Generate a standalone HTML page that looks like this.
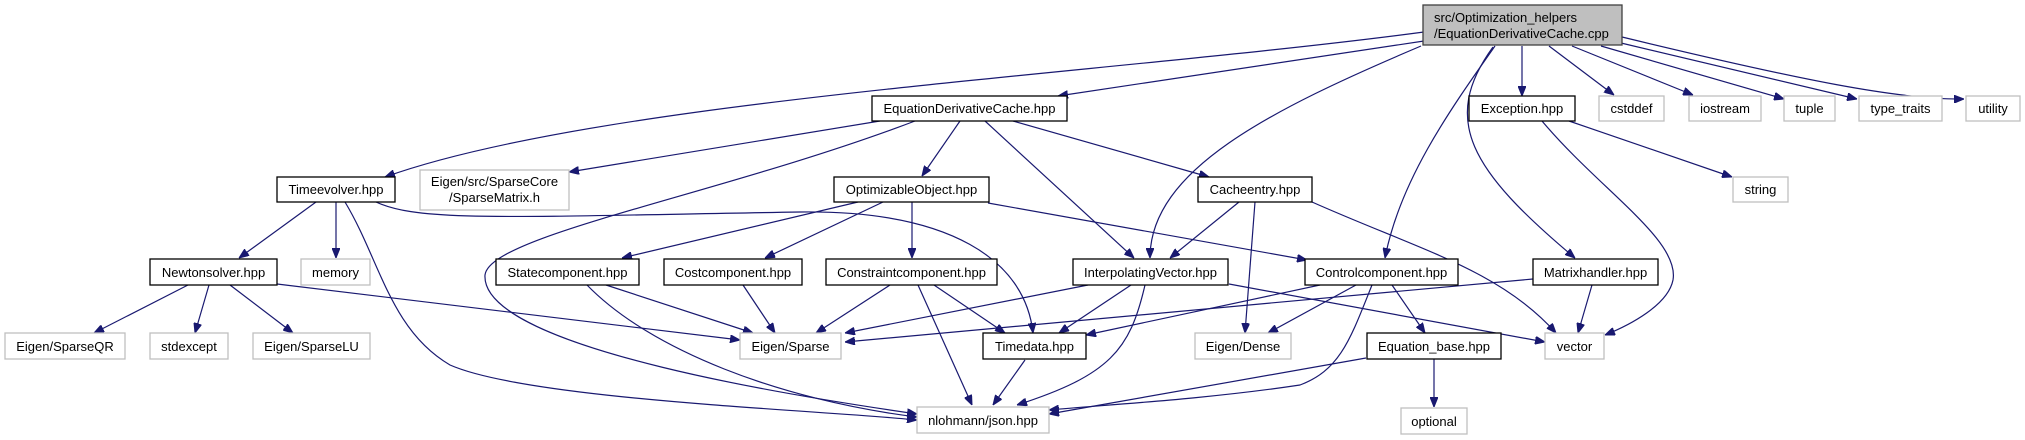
<!DOCTYPE html>
<html><head><meta charset="utf-8"><style>
html,body{margin:0;padding:0;background:#fff;}
svg{display:block;}
text{font-family:"Liberation Sans",Arial,sans-serif;font-size:13px;fill:#000;}
.b{fill:#fff;stroke:#000;stroke-width:1.3;}
.g{fill:#fff;stroke:#bfbfbf;stroke-width:1.3;}
.e{fill:none;stroke:#191970;stroke-width:1.2;}
</style></head><body>
<svg width="2025" height="440" viewBox="0 0 2025 440" xmlns="http://www.w3.org/2000/svg">
<defs>
<marker id="a" viewBox="0 0 10 8" refX="10" refY="4" markerWidth="10" markerHeight="8" markerUnits="userSpaceOnUse" orient="auto">
<path d="M0,0 L10,4 L0,8 Z" fill="#191970" stroke="#191970"/>
</marker>
</defs>
<g class="e" marker-end="url(#a)">
<path d="M1424,32 C1100,75 600,100 385,177"/>
<path d="M1424,41 L1058,96"/>
<path d="M1421,46 C1270,110 1150,170 1150,258"/>
<path d="M1522,46 L1522,96"/>
<path d="M1495,46 C1450,110 1400,180 1385,258"/>
<path d="M1493,47 C1440,120 1470,170 1575,258"/>
<path d="M1549,46 L1614,95"/>
<path d="M1572,46 L1693,95"/>
<path d="M1601,46 L1784,99"/>
<path d="M1621,43 L1857,99"/>
<path d="M1622,37 C1800,80 1900,100 1964,99"/>
<path d="M880,121 L569,172"/>
<path d="M915,121 C720,195 490,235 485,275 C480,350 820,400 917,414"/>
<path d="M960,121 L922,176"/>
<path d="M985,121 L1134,258"/>
<path d="M1013,121 L1209,177"/>
<path d="M316,202 L239,258"/>
<path d="M336,202 L336,258"/>
<path d="M345,202 C380,260 390,330 450,365 C530,400 820,410 917,420"/>
<path d="M376,202 C420,222 500,217 800,212 C950,210 1025,260 1033,333"/>
<path d="M858,202 L622,258"/>
<path d="M883,202 L765,258"/>
<path d="M912,202 L912,258"/>
<path d="M988,203 L1307,260"/>
<path d="M188,285 L94,333"/>
<path d="M209,285 L195,333"/>
<path d="M230,285 L293,333"/>
<path d="M277,284 L740,340"/>
<path d="M606,285 L753,333"/>
<path d="M587,285 C650,350 780,400 917,417"/>
<path d="M743,285 L775,333"/>
<path d="M890,285 L816,333"/>
<path d="M918,285 L972,405"/>
<path d="M934,285 L1005,333"/>
<path d="M1088,285 L845,333"/>
<path d="M1131,285 L1059,333"/>
<path d="M1145,285 C1130,350 1110,375 1017,405"/>
<path d="M1229,284 L1545,342"/>
<path d="M1239,202 L1170,258"/>
<path d="M1255,202 L1245,333"/>
<path d="M1312,202 C1420,250 1500,270 1556,333"/>
<path d="M1320,285 L1086,335"/>
<path d="M1356,285 L1268,333"/>
<path d="M1372,285 C1350,340 1340,370 1300,385 C1200,400 1100,405 1049,410"/>
<path d="M1392,285 L1425,333"/>
<path d="M1533,279 L845,342"/>
<path d="M1592,285 L1578,333"/>
<path d="M1569,121 L1732,177"/>
<path d="M1542,121 C1600,190 1680,240 1673,280 C1668,305 1630,325 1605,335"/>
<path d="M1366,358 L1049,414"/>
<path d="M1434,359 L1434,407"/>
<path d="M1025,360 L993,405"/>
</g>
<rect x="1423" y="5" width="199" height="40" fill="#bfbfbf" stroke="#404040" stroke-width="1.3"/>
<text x="1434" y="22">src/Optimization_helpers</text>
<text x="1434" y="38">/EquationDerivativeCache.cpp</text>
<g text-anchor="middle">
<rect class="b" x="872" y="96" width="195" height="25"/><text x="969.5" y="113">EquationDerivativeCache.hpp</text>
<rect class="b" x="1469" y="96" width="106" height="25"/><text x="1522" y="113">Exception.hpp</text>
<rect class="g" x="1599" y="96" width="65" height="25"/><text x="1631.5" y="113">cstddef</text>
<rect class="g" x="1689" y="96" width="72" height="25"/><text x="1725" y="113">iostream</text>
<rect class="g" x="1784" y="96" width="51" height="25"/><text x="1809.5" y="113">tuple</text>
<rect class="g" x="1859" y="96" width="83" height="25"/><text x="1900.5" y="113">type_traits</text>
<rect class="g" x="1966" y="96" width="54" height="25"/><text x="1993" y="113">utility</text>

<rect class="b" x="277" y="177" width="118" height="25"/><text x="336" y="194">Timeevolver.hpp</text>
<rect class="g" x="420" y="170" width="149" height="40"/><text x="494.5" y="186">Eigen/src/SparseCore</text><text x="494.5" y="202">/SparseMatrix.h</text>
<rect class="b" x="834" y="177" width="155" height="25"/><text x="911.5" y="194">OptimizableObject.hpp</text>
<rect class="b" x="1198" y="177" width="114" height="25"/><text x="1255" y="194">Cacheentry.hpp</text>
<rect class="g" x="1733" y="177" width="55" height="25"/><text x="1760.5" y="194">string</text>

<rect class="b" x="150" y="259" width="127" height="26"/><text x="213.5" y="277">Newtonsolver.hpp</text>
<rect class="g" x="301" y="259" width="69" height="26"/><text x="335.5" y="277">memory</text>
<rect class="b" x="496" y="259" width="143" height="26"/><text x="567.5" y="277">Statecomponent.hpp</text>
<rect class="b" x="664" y="259" width="138" height="26"/><text x="733" y="277">Costcomponent.hpp</text>
<rect class="b" x="826" y="259" width="171" height="26"/><text x="911.5" y="277">Constraintcomponent.hpp</text>
<rect class="b" x="1073" y="259" width="155" height="26"/><text x="1150.5" y="277">InterpolatingVector.hpp</text>
<rect class="b" x="1305" y="259" width="153" height="26"/><text x="1381.5" y="277">Controlcomponent.hpp</text>
<rect class="b" x="1533" y="259" width="125" height="26"/><text x="1595.5" y="277">Matrixhandler.hpp</text>

<rect class="g" x="5" y="333" width="120" height="26"/><text x="65" y="351">Eigen/SparseQR</text>
<rect class="g" x="150" y="333" width="78" height="26"/><text x="189" y="351">stdexcept</text>
<rect class="g" x="253" y="333" width="117" height="26"/><text x="311.5" y="351">Eigen/SparseLU</text>
<rect class="g" x="740" y="333" width="101" height="26"/><text x="790.5" y="351">Eigen/Sparse</text>
<rect class="b" x="983" y="333" width="103" height="26"/><text x="1034.5" y="351">Timedata.hpp</text>
<rect class="g" x="1195" y="333" width="96" height="26"/><text x="1243" y="351">Eigen/Dense</text>
<rect class="b" x="1367" y="333" width="134" height="26"/><text x="1434" y="351">Equation_base.hpp</text>
<rect class="g" x="1545" y="333" width="59" height="26"/><text x="1574.5" y="351">vector</text>

<rect class="g" x="917" y="407" width="132" height="26"/><text x="983" y="425">nlohmann/json.hpp</text>
<rect class="g" x="1401" y="408" width="66" height="26"/><text x="1434" y="426">optional</text>
</g>
</svg>
</body></html>
